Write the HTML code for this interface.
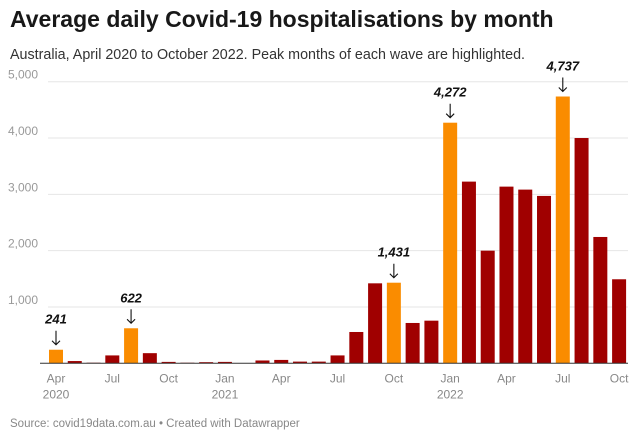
<!DOCTYPE html>
<html><head><meta charset="utf-8"><style>
body{margin:0;background:#fff;font-family:"Liberation Sans",Arial,sans-serif;}
#wrap{position:relative;width:639px;height:444px;overflow:hidden}
h1{position:absolute;left:10px;top:6px;margin:0;font-size:23px;font-weight:bold;color:#181818}
.sub{position:absolute;left:10px;top:47px;font-size:14.3px;color:#333}
.src{position:absolute;left:10px;top:418px;font-size:11.5px;color:#888}
</style></head><body>
<div id="wrap">
<h1>Average daily Covid-19 hospitalisations by month</h1>
<div class="sub">Australia, April 2020 to October 2022. Peak months of each wave are highlighted.</div>
<svg id="chart" width="639" height="444" style="position:absolute;left:0;top:0"></svg>
<div class="src">Source: covid19data.com.au • Created with Datawrapper</div>
</div>
<script>
const months=["Apr","May","Jun","Jul","Aug","Sep","Oct","Nov","Dec","Jan","Feb","Mar","Apr","May","Jun","Jul","Aug","Sep","Oct","Nov","Dec","Jan","Feb","Mar","Apr","May","Jun","Jul","Aug","Sep","Oct"];
const values=[241,40,10,140,622,180,25,10,20,25,5,50,60,30,30,140,556,1420,1431,716,757,4272,3226,2000,3137,3084,2972,4737,4000,2243,1492];
const peaks=[0,4,18,21,27];
const yTicks=[1000,2000,3000,4000,5000];
const xTickIdx=[0,3,6,9,12,15,18,21,24,27,30];
const yearLabels=[[0,"2020"],[9,"2021"],[21,"2022"]];
const NS="http://www.w3.org/2000/svg",svg=document.getElementById('chart');
const y0=363.3,pxPer=281.6/5000,x0=56,step=18.77,bw=14;
const yS=v=>y0-v*pxPer, xS=i=>x0+i*step;
function mk(t,a,txt){const e=document.createElementNS(NS,t);for(const k in a)e.setAttribute(k,a[k]);if(txt!=null)e.textContent=txt;svg.appendChild(e);return e;}
yTicks.forEach(t=>{
 const g=mk('line',{x1:48,x2:628,y1:yS(t),y2:yS(t),stroke:'#e6e6e6','stroke-width':1});
 
 
 const l=mk('text',{x:8,y:yS(t)-3,'font-size':12,fill:'#999'},t.toLocaleString('en-US'));
 
 
});
values.forEach((v,i)=>{
 const pk=peaks.includes(i);
 const r=mk('rect',{x:xS(i)-bw/2,y:yS(v),width:bw,height:y0-yS(v),fill:pk?'#fa8c00':'#a00000'});
 
 
 if(pk){
  const t=mk('text',{x:xS(i),y:yS(v)-26,'font-size':13,'font-weight':'bold','font-style':'italic','text-anchor':'middle',fill:'#111'},v.toLocaleString('en-US'));
  
  
  const a=mk('path',{d:`M${xS(i)} ${yS(v)-19} V${yS(v)-5} M${xS(i)-4} ${yS(v)-9} L${xS(i)} ${yS(v)-5} L${xS(i)+4} ${yS(v)-9}`,stroke:'#111',fill:'none','stroke-width':1.1});
  
  
 }
});
const ax=mk('line',{x1:40,x2:628,y1:y0,y2:y0,stroke:'#333','stroke-width':1});


xTickIdx.forEach(i=>{
 const t=mk('text',{x:xS(i),y:y0+19,'font-size':12,fill:'#888','text-anchor':'middle'},months[i]);
 
 
});
yearLabels.forEach(([i,l])=>{
 const t=mk('text',{x:xS(i),y:y0+35,'font-size':12,fill:'#888','text-anchor':'middle'},l);
 
 
});
</script>
</body></html>
